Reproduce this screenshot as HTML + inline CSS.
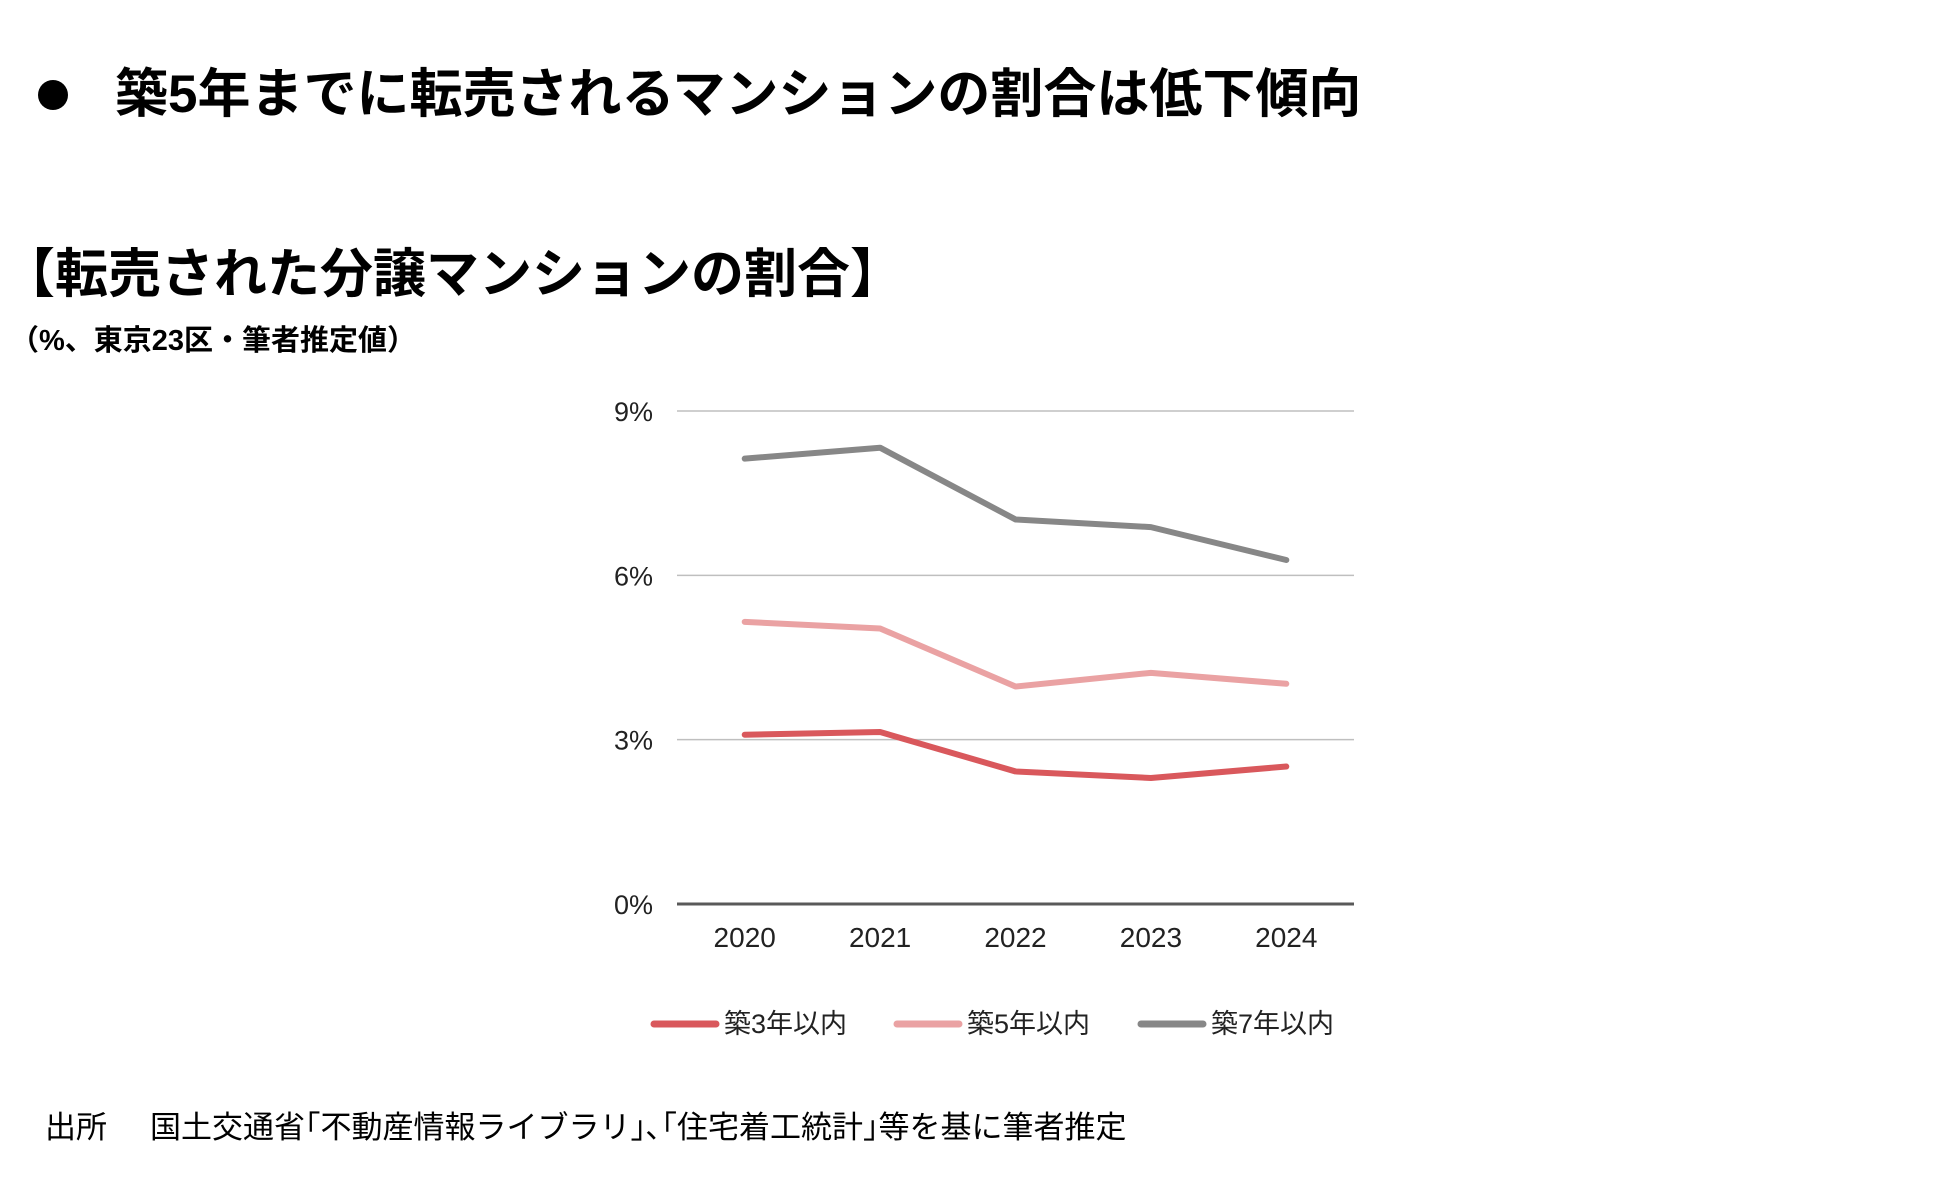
<!DOCTYPE html>
<html><head><meta charset="utf-8">
<style>
html,body{margin:0;padding:0;background:#fff;}
body{width:1950px;height:1196px;position:relative;overflow:hidden;font-family:"Liberation Sans","Noto Sans CJK JP",sans-serif;color:#000;}
.t{position:absolute;white-space:nowrap;}
</style></head><body>
<div class="t" style="left:38px;top:80px;width:30px;height:30px;border-radius:50%;background:#000;"></div>
<div class="t" style="left:115px;top:65px;font-size:53px;font-weight:bold;line-height:60px;">築5年までに転売されるマンションの割合は低下傾向</div>
<div class="t" style="left:2px;top:245px;font-size:53px;font-weight:bold;line-height:60px;">【転売された分譲マンションの割合】</div>
<div class="t" style="left:10px;top:325px;font-size:29px;font-weight:bold;line-height:32px;">（%、東京23区・筆者推定値）</div>
<svg id="chart" width="1950" height="1196" style="position:absolute;left:0;top:0;"></svg>
<div class="t" style="left:45px;top:1111px;font-size:31px;line-height:34px;">出所</div>
<div class="t" style="left:150px;top:1111px;font-size:31px;line-height:34px;">国土交通省｢不動産情報ライブラリ｣､｢住宅着工統計｣等を基に筆者推定</div>
<script>
const categories=["2020","2021","2022","2023","2024"];
const s3=[3.09,3.14,2.42,2.30,2.51];
const s5=[5.15,5.03,3.97,4.22,4.02];
const s7=[8.13,8.33,7.02,6.88,6.28];
const yTicks=[0,3,6,9];
const seriesNames=["築3年以内","築5年以内","築7年以内"];
const NS="http://www.w3.org/2000/svg";
const svg=document.getElementById('chart');
const L=677,R=1354,T=411,B=904,ymax=9;
const y=v=>B-(v/ymax)*(B-T);
const bw=(R-L)/categories.length;
const x=i=>L+bw*(i+0.5);
function mk(tag,attrs){const e=document.createElementNS(NS,tag);for(const k in attrs)e.setAttribute(k,attrs[k]);svg.appendChild(e);return e;}
yTicks.forEach(v=>{
  const g=mk('line',{x1:L,x2:R,y1:y(v),y2:y(v),stroke:v===0?'#595959':'#bfbfbf','stroke-width':v===0?3:1.5});
  
  
  const t=mk('text',{x:653,y:y(v)+10,'text-anchor':'end','font-size':27,fill:'#222'});
  t.textContent=v+'%';
  
  
});
categories.forEach((c,i)=>{
  const t=mk('text',{x:x(i),y:947,'text-anchor':'middle','font-size':28,fill:'#222'});
  t.textContent=c;
  
  
});
const colors=['#d9585c','#eaa2a3','#878787'];
[s3,s5,s7].forEach((s,k)=>{
  const p=mk('polyline',{points:s.map((v,i)=>x(i)+','+y(v)).join(' '),fill:'none',stroke:colors[k],'stroke-width':6,'stroke-linecap':'round','stroke-linejoin':'round'});
  
  
});
const lx=[654,897,1141];
seriesNames.forEach((n,k)=>{
  const l=mk('line',{x1:lx[k],x2:lx[k]+62,y1:1024,y2:1024,stroke:colors[k],'stroke-width':7,'stroke-linecap':'round'});
  
  
  const t=mk('text',{x:lx[k]+70,y:1033,'font-size':27,fill:'#222'});
  t.textContent=n;
  
  
});
</script>
</body></html>
